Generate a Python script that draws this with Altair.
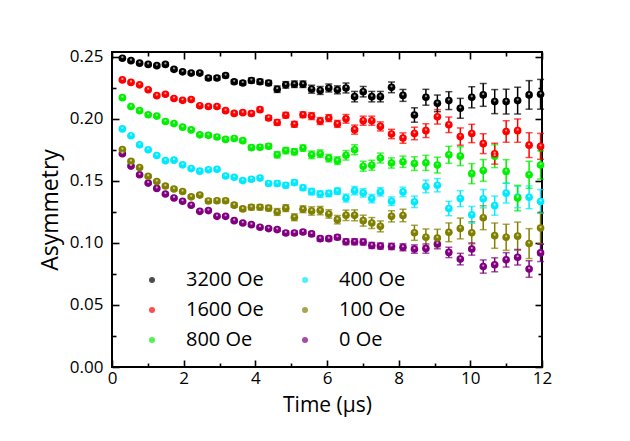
import altair as alt
import pandas as pd

# ---------------- data ----------------
times = [0.29, 0.53, 0.77, 1.01, 1.25, 1.49, 1.73, 1.97, 2.21, 2.45, 2.69, 2.93,
         3.17, 3.41, 3.65, 3.89, 4.13, 4.37, 4.61, 4.85, 5.09, 5.33, 5.57, 5.81,
         6.05, 6.29, 6.53, 6.77, 7.01, 7.25, 7.49, 7.80, 8.12, 8.44, 8.76, 9.08,
         9.40, 9.72, 10.04, 10.36, 10.68, 11.00, 11.32, 11.64, 11.96]

a3200 = [0.249, 0.247, 0.245, 0.244, 0.243, 0.244, 0.240, 0.238, 0.237, 0.237, 0.233, 0.233,
         0.235, 0.230, 0.229, 0.231, 0.230, 0.229, 0.224, 0.2275, 0.228, 0.228, 0.224, 0.223,
         0.225, 0.2235, 0.225, 0.218, 0.222, 0.218, 0.218, 0.2255, 0.219, 0.2032, 0.2175, 0.2126,
         0.2148, 0.2086, 0.2175, 0.2194, 0.214, 0.214, 0.2148, 0.2194, 0.2199]
a1600 = [0.2315, 0.2295, 0.2275, 0.2236, 0.2188, 0.2199, 0.2165, 0.2150, 0.2157, 0.2107, 0.2100, 0.2100,
         0.2067, 0.2045, 0.2051, 0.2044, 0.2075, 0.2008, 0.1972, 0.2030, 0.1957, 0.2034, 0.2023, 0.1983,
         0.2007, 0.1960, 0.2001, 0.1914, 0.1986, 0.1986, 0.1940, 0.1879, 0.1846, 0.1883, 0.1906, 0.2017,
         0.1953, 0.1858, 0.1883, 0.1801, 0.1720, 0.1899, 0.1906, 0.1789, 0.1779]
a800 = [0.2172, 0.2100, 0.2067, 0.2034, 0.2023, 0.1980, 0.1963, 0.1934, 0.1912, 0.1872, 0.1868, 0.1855,
        0.1835, 0.1843, 0.1825, 0.1769, 0.1772, 0.1780, 0.1711, 0.1745, 0.1735, 0.1765, 0.1711, 0.1720,
        0.1684, 0.1664, 0.1707, 0.1752, 0.1619, 0.1627, 0.1685, 0.1645, 0.1655, 0.1640, 0.1646, 0.1628,
        0.1711, 0.1700, 0.1559, 0.1585, 0.1700, 0.1577, 0.1362, 0.1550, 0.1629]
a400 = [0.1920, 0.1865, 0.1792, 0.1752, 0.1705, 0.1664, 0.1668, 0.1630, 0.1600, 0.1579, 0.1591, 0.1594,
        0.1540, 0.1530, 0.1503, 0.1514, 0.1523, 0.1480, 0.1480, 0.1465, 0.1487, 0.1445, 0.1414, 0.1395,
        0.1399, 0.1418, 0.1362, 0.1422, 0.1404, 0.1358, 0.1412, 0.1337, 0.1412, 0.1332, 0.1456, 0.1466,
        0.1278, 0.1358, 0.1227, 0.1357, 0.1301, 0.1402, 0.1371, 0.1368, 0.1335]
a100 = [0.1753, 0.1659, 0.1608, 0.1538, 0.1495, 0.1459, 0.1435, 0.1415, 0.1372, 0.1386, 0.1339, 0.1341,
        0.1341, 0.1305, 0.1275, 0.1288, 0.1288, 0.1281, 0.1250, 0.1281, 0.1207, 0.1272, 0.1258, 0.1261,
        0.1234, 0.1188, 0.1223, 0.1223, 0.1180, 0.1161, 0.1134, 0.1215, 0.1222, 0.1082, 0.1046, 0.1040,
        0.1086, 0.1117, 0.1082, 0.1204, 0.1059, 0.1046, 0.1055, 0.0995, 0.1120]
a0 = [0.1720, 0.1620, 0.1550, 0.1483, 0.1440, 0.1395, 0.1363, 0.1336, 0.1304, 0.1255, 0.1261, 0.1215,
      0.1215, 0.1180, 0.1161, 0.1148, 0.1127, 0.1116, 0.1108, 0.1081, 0.1081, 0.1089, 0.1073, 0.1035,
      0.1035, 0.1046, 0.1010, 0.1010, 0.1008, 0.0980, 0.0975, 0.0972, 0.0965, 0.0951, 0.0955, 0.0992,
      0.0924, 0.0870, 0.0951, 0.0810, 0.0824, 0.0864, 0.0885, 0.0790, 0.0920]

# error-bar half widths (3200 Oe), read per time bin
err_3200 = [0.0010, 0.0010, 0.0010, 0.0010, 0.0010, 0.0012, 0.0012, 0.0012, 0.0012, 0.0012, 0.0016, 0.0016,
            0.0016, 0.0016, 0.0016, 0.0020, 0.0020, 0.0020, 0.0026, 0.0026, 0.0026, 0.0026, 0.0032, 0.0032,
            0.0032, 0.0032, 0.0040, 0.0042, 0.0042, 0.0042, 0.0042, 0.0043, 0.0048, 0.0058, 0.0064, 0.0067,
            0.0072, 0.0080, 0.0085, 0.0092, 0.0097, 0.0100, 0.0108, 0.0115, 0.0120]
# relative error size of each field
err_rel = {"3200 Oe": 1.0, "1600 Oe": 0.87, "800 Oe": 0.95, "400 Oe": 0.8, "100 Oe": 1.05, "0 Oe": 0.58}

series = {"3200 Oe": a3200, "1600 Oe": a1600, "800 Oe": a800,
          "400 Oe": a400, "100 Oe": a100, "0 Oe": a0}
colors = {"3200 Oe": "#000000", "1600 Oe": "#ff0000", "800 Oe": "#00f000",
          "400 Oe": "#00eaff", "100 Oe": "#808000", "0 Oe": "#800080"}
legend_order = ["3200 Oe", "1600 Oe", "800 Oe", "400 Oe", "100 Oe", "0 Oe"]
draw_order = ["0 Oe", "100 Oe", "400 Oe", "800 Oe", "1600 Oe", "3200 Oe"]

x_major = [0, 2, 4, 6, 8, 10, 12]
x_minor = [1, 3, 5, 7, 9, 11]
y_major = [0.0, 0.05, 0.10, 0.15, 0.20, 0.25]
y_minor = [0.025, 0.075, 0.125, 0.175, 0.225]

rows = []
for name in draw_order:
    f = err_rel[name]
    for t, a, e in zip(times, series[name], err_3200):
        rows.append({"t": t, "A": a, "lo": a - e * f, "hi": a + e * f, "field": name})
df = pd.DataFrame(rows)

FONT = "Open Sans"
xs = alt.Scale(domain=[0, 12], nice=False, zero=False)
ys = alt.Scale(domain=[0, 0.254], nice=False, zero=False)
cs = alt.Scale(domain=legend_order, range=[colors[n] for n in legend_order])

legend = alt.Legend(
    orient="none", legendX=30, legendY=218, columns=2, title=None,
    symbolType="circle", symbolSize=36, symbolStrokeWidth=0,
    labelFont=FONT, labelFontSize=20, labelColor="black", labelOffset=24,
    rowPadding=10, columnPadding=31, padding=0)
color = alt.Color("field:N", scale=cs, legend=legend)


def ax(orient, values, size, labels=False, title=None, fmt=None, pad=0, tpad=0, tsize=20):
    kw = dict(orient=orient, values=values, tickSize=size, offset=-size, domain=False,
              grid=False, labels=labels, tickColor="black", tickWidth=1.6, title=title)
    if labels:
        kw.update(labelFont=FONT, labelFontSize=17, labelColor="black", labelPadding=pad,
                  labelFlush=False, labelOverlap=False)
    if fmt:
        kw["format"] = fmt
    if title:
        kw.update(titleFont=FONT, titleFontSize=tsize, titleFontWeight="normal",
                  titleColor="black", titlePadding=tpad)
    return alt.Axis(**kw)


base = alt.Chart(df)

bars = base.mark_rule(strokeWidth=1.5).encode(
    x=alt.X("t:Q", scale=xs, axis=ax("bottom", x_major, 7, True, "Time (µs)", "d", 3, 8, 21)),
    y=alt.Y("lo:Q", scale=ys, axis=ax("left", y_major, 7, True, "Asymmetry", ".2f", 9, 7, 23)),
    y2="hi:Q",
    color=color,
)
cap_lo = base.mark_tick(orient="horizontal", size=7, thickness=1.5).encode(
    x=alt.X("t:Q", scale=xs, axis=ax("bottom", x_minor, 4)),
    y=alt.Y("lo:Q", scale=ys, axis=ax("left", y_minor, 4)),
    color=color,
)
cap_hi = base.mark_tick(orient="horizontal", size=7, thickness=1.5).encode(
    x=alt.X("t:Q", scale=xs, axis=ax("top", x_major, 7)),
    y=alt.Y("hi:Q", scale=ys, axis=ax("right", y_major, 7)),
    color=color,
)
pts = base.mark_circle(size=58, opacity=1).encode(
    x=alt.X("t:Q", scale=xs, axis=ax("top", x_minor, 4)),
    y=alt.Y("A:Q", scale=ys, axis=ax("right", y_minor, 4)),
    color=color,
)
hl = base.mark_circle(size=5, color="white", opacity=0.6, yOffset=-1).encode(
    x=alt.X("t:Q", scale=xs, axis=None),
    y=alt.Y("A:Q", scale=ys, axis=None),
)

chart = alt.layer(bars, cap_lo, cap_hi, pts, hl).resolve_axis(
    x="independent", y="independent"
).properties(
    width=430, height=315,
    autosize=alt.AutoSizeParams(type="none"),
    padding={"left": 104, "top": 44, "right": 70, "bottom": 60},
).configure_view(stroke="black", strokeWidth=2)

chart.save("out.html", embed_options={"renderer": "svg", "actions": False})
